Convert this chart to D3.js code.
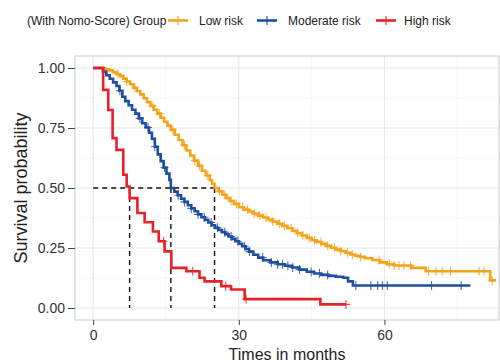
<!DOCTYPE html>
<html>
<head>
<meta charset="utf-8">
<script src="https://cdn.jsdelivr.net/npm/d3@7"></script>
<style>
  body { margin: 0; background: #fff; }
  svg { display: block; font-family: "Liberation Sans", Arial, Helvetica, sans-serif; }
</style>
</head>
<body>
<svg id="chart" width="500" height="363"></svg>
<script>
// Kaplan-Meier steps (time in months, survival after step)
const groups = ["Low risk", "Moderate risk", "High risk"];
const colors = ["#F5A31B", "#1D4E9F", "#E8202A"];

const lowTime = [0, 2.5, 3.3, 4.0, 4.8, 5.5, 6.2, 6.9, 7.6, 8.3, 9.0, 9.7, 10.4, 11.1, 11.8, 12.5, 13.2, 13.9, 14.6, 15.3, 16.0, 16.8, 17.6, 18.4, 19.2, 20.0, 20.8, 21.6, 22.4, 23.2, 24.0, 24.5, 25.0, 25.8, 26.6, 27.4, 28.2, 29.0, 30.0, 31.0, 32.0, 33.0, 34.0, 35.0, 36.0, 37.0, 38.0, 39.0, 40.0, 41.0, 42.0, 43.0, 44.0, 45.0, 46.0, 47.0, 48.0, 49.0, 50.0, 51.0, 52.0, 53.0, 54.0, 55.0, 56.0, 57.5, 59.0, 60.5, 62.0, 65.5, 68.5, 81.8];
const lowSurv = [1, 0.995, 0.99, 0.983, 0.975, 0.966, 0.955, 0.944, 0.932, 0.918, 0.904, 0.89, 0.874, 0.858, 0.842, 0.826, 0.81, 0.793, 0.776, 0.76, 0.742, 0.722, 0.7, 0.678, 0.656, 0.635, 0.614, 0.593, 0.572, 0.552, 0.532, 0.518, 0.5, 0.486, 0.472, 0.458, 0.446, 0.434, 0.42, 0.41, 0.402, 0.394, 0.385, 0.377, 0.369, 0.36, 0.351, 0.342, 0.332, 0.322, 0.312, 0.302, 0.292, 0.282, 0.275, 0.267, 0.259, 0.251, 0.244, 0.237, 0.23, 0.223, 0.218, 0.213, 0.207, 0.2, 0.19, 0.183, 0.177, 0.167, 0.153, 0.115];
const lowEnd = 83.0;
const lowCensor = [5.1, 6.9, 8.6, 12.3, 13.7, 16.4, 18.8, 20.9, 21.9, 23.6, 26.0, 27.1, 28.4, 29.5, 30.8, 31.8, 33.2, 34.3, 35.6, 37.0, 38.4, 39.4, 40.8, 42.1, 43.2, 44.5, 45.6, 46.9, 48.3, 49.7, 51.0, 52.4, 53.4, 55.1, 58.9, 61.0, 62.0, 63.0, 64.0, 65.4, 69.1, 70.6, 71.9, 73.6, 79.5, 80.5, 82.2];

const modTime = [0, 2.0, 2.7, 3.4, 4.1, 4.8, 5.4, 6.0, 6.6, 7.3, 8.0, 8.7, 9.4, 10.1, 10.8, 11.5, 12.1, 12.7, 13.3, 13.9, 14.5, 15.1, 15.7, 16.0, 16.7, 17.4, 18.1, 18.8, 19.5, 20.2, 20.9, 21.6, 22.3, 23.0, 23.7, 24.4, 25.1, 25.8, 26.5, 27.2, 27.9, 28.6, 29.3, 30.0, 30.7, 31.4, 32.1, 33.0, 34.0, 35.0, 36.5, 38.0, 39.5, 41.0, 42.5, 44.0, 45.5, 47.0, 48.5, 50.0, 51.5, 52.5, 53.5];
const modSurv = [1, 0.985, 0.97, 0.955, 0.94, 0.925, 0.905, 0.88, 0.862, 0.845, 0.826, 0.81, 0.79, 0.77, 0.752, 0.73, 0.705, 0.672, 0.64, 0.612, 0.585, 0.56, 0.534, 0.5, 0.485, 0.47, 0.455, 0.442, 0.428, 0.415, 0.403, 0.39, 0.378, 0.367, 0.356, 0.345, 0.334, 0.325, 0.316, 0.307, 0.298, 0.288, 0.278, 0.268, 0.257, 0.246, 0.235, 0.222, 0.21, 0.199, 0.19, 0.182, 0.176, 0.169, 0.16, 0.151, 0.144, 0.138, 0.134, 0.13, 0.126, 0.111, 0.094];
const modEnd = 77.7;
const modCensor = [5.5, 9.6, 11.3, 12.7, 14.7, 17.5, 18.8, 20.2, 21.6, 22.9, 24.3, 25.6, 27.1, 28.4, 29.8, 31.2, 32.2, 34.9, 36.7, 38.0, 39.0, 40.1, 41.1, 42.5, 44.9, 46.6, 48.3, 54.1, 57.2, 58.6, 59.6, 60.6, 69.7, 75.8];

const highTime = [0, 2.05, 3.1, 4.0, 4.8, 6.2, 6.9, 7.5, 9.1, 10.6, 12.3, 13.5, 14.7, 16.1, 19.2, 21.9, 22.95, 26.4, 28.4, 31.2, 46.8];
const highSurv = [1, 0.909, 0.825, 0.708, 0.659, 0.555, 0.506, 0.458, 0.396, 0.357, 0.319, 0.278, 0.236, 0.167, 0.153, 0.126, 0.111, 0.091, 0.077, 0.037, 0.015];
const highEnd = 52.1;
const highCensor = [14.5, 20.5, 27.3, 31.5, 52.1];

const medians = [25.0, 16.0, 7.5];
const xTicks = [0, 30, 60];
const yTicks = [0, 0.25, 0.5, 0.75, 1];

const svg = d3.select("#chart");
const panel = {left: 75, top: 56, right: 499, bottom: 320};

const x = d3.scaleLinear().domain([-3.75, 83.6]).range([panel.left, panel.right]);
const y = d3.scaleLinear().domain([-0.05, 1.05]).range([panel.bottom, panel.top]);

// grid
const g = svg.append("g");
const minorX = [15, 45, 75], minorY = [0.125, 0.375, 0.625, 0.875];
g.selectAll(".mx").data(minorX).enter().append("line")
	.attr("x1", d => x(d)).attr("x2", d => x(d))
	.attr("y1", panel.top).attr("y2", panel.bottom)
	.attr("stroke", "#f3f3f3").attr("stroke-width", 0.6);
g.selectAll(".my").data(minorY).enter().append("line")
	.attr("x1", panel.left).attr("x2", panel.right)
	.attr("y1", d => y(d)).attr("y2", d => y(d))
	.attr("stroke", "#f3f3f3").attr("stroke-width", 0.6);
g.selectAll(".gx").data(xTicks).enter().append("line")
	.attr("x1", d => x(d)).attr("x2", d => x(d))
	.attr("y1", panel.top).attr("y2", panel.bottom)
	.attr("stroke", "#e6e6e6").attr("stroke-width", 1);
g.selectAll(".gy").data(yTicks).enter().append("line")
	.attr("x1", panel.left).attr("x2", panel.right)
	.attr("y1", d => y(d)).attr("y2", d => y(d))
	.attr("stroke", "#e6e6e6").attr("stroke-width", 1);

g.append("rect")
	.attr("x", panel.left).attr("y", panel.top)
	.attr("width", panel.right - panel.left).attr("height", panel.bottom - panel.top)
	.attr("fill", "none").attr("stroke", "#c9c9c9").attr("stroke-width", 1);

// axes
const xAxis = svg.append("g").attr("transform", `translate(0,${panel.bottom})`)
	.call(d3.axisBottom(x).tickValues(xTicks).tickSize(5).tickPadding(5));
const yAxis = svg.append("g").attr("transform", `translate(${panel.left},0)`)
	.call(d3.axisLeft(y).tickValues(yTicks).tickFormat(d3.format(".2f")).tickSize(7).tickPadding(3));
[xAxis, yAxis].forEach(a => {
	a.select(".domain").remove();
	a.selectAll(".tick line").attr("stroke", "#444");
	a.selectAll(".tick text").attr("fill", "#333").style("font-size", "14px")
		.style("font-family", "'Liberation Sans', Arial, sans-serif");
});

// median lines
const med = svg.append("g").attr("stroke", "#111").attr("stroke-width", 1.4).attr("stroke-dasharray", "5,4");
med.append("line").attr("x1", x(0)).attr("x2", x(d3.max(medians)))
	.attr("y1", y(0.5)).attr("y2", y(0.5));
med.selectAll(".v").data(medians).enter().append("line")
	.attr("x1", d => x(d)).attr("x2", d => x(d))
	.attr("y1", y(0.5)).attr("y2", y(0));

// curves
svg.append("clipPath").attr("id", "clip").append("rect")
	.attr("x", panel.left).attr("y", panel.top)
	.attr("width", panel.right - panel.left).attr("height", panel.bottom - panel.top);

const series = [
	{time: lowTime, surv: lowSurv, end: lowEnd, censor: lowCensor},
	{time: modTime, surv: modSurv, end: modEnd, censor: modCensor},
	{time: highTime, surv: highSurv, end: highEnd, censor: highCensor}
];

const line = d3.line().x(d => x(d[0])).y(d => y(d[1])).curve(d3.curveStepAfter);
const plot = svg.append("g").attr("clip-path", "url(#clip)");

function survAt(s, t) {
	const i = d3.bisectRight(s.time, t) - 1;
	return s.surv[Math.max(0, i)];
}

const cross = "M-4,0H4M0,-4.5V4.5";
series.forEach((s, k) => {
	const pts = s.time.map((t, i) => [t, s.surv[i]]);
	pts.push([s.end, s.surv[s.surv.length - 1]]);
	plot.append("path").datum(pts)
		.attr("d", line)
		.attr("fill", "none")
		.attr("stroke", colors[k])
		.attr("stroke-width", 2.6);
	plot.selectAll(".c" + k).data(s.censor).enter().append("path")
		.attr("transform", d => `translate(${x(d)},${y(survAt(s, d))})`)
		.attr("d", cross)
		.attr("stroke", colors[k])
		.attr("stroke-opacity", 0.8)
		.attr("stroke-width", 1.1)
		.attr("fill", "none");
});

// titles
svg.append("text")
	.attr("x", (panel.left + panel.right) / 2).attr("y", 360)
	.attr("text-anchor", "middle")
	.style("font-size", "16px").attr("fill", "#222")
	.text("Times in months");
svg.append("text")
	.attr("transform", `translate(27,${(panel.top + panel.bottom) / 2}) rotate(-90)`)
	.attr("text-anchor", "middle")
	.style("font-size", "18px").attr("fill", "#222")
	.text("Survival probability");

// legend
const legend = svg.append("g").style("font-size", "12px");
legend.append("text").attr("x", 27).attr("y", 25).attr("fill", "#222").text("(With Nomo-Score) Group");
const legX = [168, 257, 376];
groups.forEach((name, k) => {
	const lg = legend.append("g").attr("transform", `translate(${legX[k]},20.5)`);
	lg.append("line").attr("x1", 0).attr("x2", 20).attr("y1", 0).attr("y2", 0)
		.attr("stroke", colors[k]).attr("stroke-width", 2.6);
	lg.append("path").attr("transform", "translate(10,0)").attr("d", cross)
		.attr("stroke", colors[k]).attr("stroke-width", 1.1).attr("fill", "none");
	lg.append("text").attr("x", k === 2 ? 28 : 31).attr("y", 4.5).attr("fill", "#222").text(name);
});
</script>
</body>
</html>
